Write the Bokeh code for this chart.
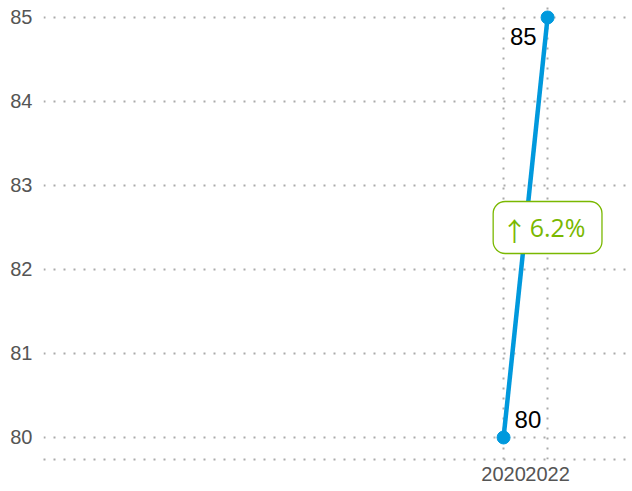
from bokeh.plotting import figure
from bokeh.models import ColumnDataSource, FixedTicker, Label, LabelSet
from bokeh.core.properties import value
from bokeh.embed import file_html
from bokeh.resources import INLINE

years = [2020, 2022]
values = [80, 85]
y_ticks = [80, 81, 82, 83, 84, 85]
x_ticks = [2020, 2022]

change_pct = (values[-1] - values[0]) / values[0] * 100
change_arrow = "↑"
change_num = f"{change_pct:.1f}%"

p = figure(width=632, height=491, output_backend="svg", toolbar_location=None,
           x_range=(1999.09, 2025.86), y_range=(79.738, 85.202),
           min_border_left=43, min_border_right=0, min_border_top=0, min_border_bottom=32)
p.outline_line_color = None
p.background_fill_color = "white"

grid_color = "#aaaaaa"
for g in (p.xgrid, p.ygrid):
    g.grid_line_color = grid_color
    g.grid_line_dash = "2 8"
    g.grid_line_width = 2

p.xaxis.ticker = FixedTicker(ticks=x_ticks)
p.yaxis.ticker = FixedTicker(ticks=y_ticks)

for ax in (p.xaxis, p.yaxis):
    ax.major_tick_line_color = None
    ax.minor_tick_line_color = None
    ax.major_tick_out = 0
    ax.major_tick_in = 0
    ax.minor_tick_out = 0
    ax.major_label_text_font = "Liberation Sans"
    ax.major_label_text_font_size = "20px"
    ax.major_label_text_color = "#555555"
p.yaxis.axis_line_color = None
p.yaxis.major_label_standoff = 11
p.xaxis.axis_line_color = grid_color
p.xaxis.axis_line_dash = "2 8"
p.xaxis.axis_line_width = 2
p.xaxis.major_label_standoff = 7

src = ColumnDataSource(dict(x=years, y=values, label=[str(v) for v in values],
                            xo=[11, -11], yo=[9, -11],
                            align=["left", "right"], base=["bottom", "top"]))
p.line("x", "y", source=src, line_color="#0099dd", line_width=4.5)
p.scatter("x", "y", source=src, size=13, fill_color="#0099dd", line_color="#0099dd")

labels = LabelSet(x="x", y="y", text="label", source=src, x_offset="xo", y_offset="yo",
                  text_align="align", text_baseline="base",
                  text_font=value("Liberation Sans"), text_font_size="24px", text_color="black")
p.add_layout(labels)

green = "#7ab800"
mid_x = years[-1]
mid_y = (values[0] + values[-1]) / 2
box = Label(x=mid_x, y=mid_y, text=change_arrow + " " + change_num,
            text_align="center", text_baseline="middle",
            text_font="Open Sans", text_font_size="25px", text_color="white",
            border_line_color=green, border_line_width=1.3,
            background_fill_color="white", padding=(17, 9), border_radius=12)
p.add_layout(box)
arrow = Label(x=mid_x, y=mid_y, x_offset=-33, y_offset=-2, text=change_arrow,
              text_align="center", text_baseline="middle",
              text_font="Noto Sans CJK SC", text_font_size="26px", text_color=green)
p.add_layout(arrow)
num = Label(x=mid_x, y=mid_y, x_offset=10, y_offset=0, text=change_num,
            text_align="center", text_baseline="middle",
            text_font="Open Sans", text_font_size="25px", text_color=green)
p.add_layout(num)

open("out.html", "w").write(file_html(p, INLINE))
